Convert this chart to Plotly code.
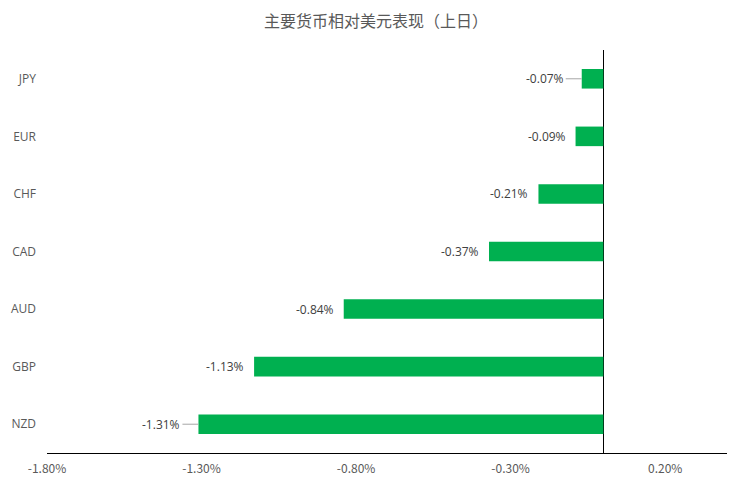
import plotly.graph_objects as go

categories = ["JPY", "EUR", "CHF", "CAD", "AUD", "GBP", "NZD"]
values = [-0.07, -0.09, -0.21, -0.37, -0.84, -1.13, -1.31]
labels = ["-0.07%", "-0.09%", "-0.21%", "-0.37%", "-0.84%", "-1.13%", "-1.31%"]
leader = [True, False, False, False, False, False, True]
tick_vals = [-1.8, -1.3, -0.8, -0.3, 0.2]
tick_text = ["-1.80%", "-1.30%", "-0.80%", "-0.30%", "0.20%"]
title = "主要货币相对美元表现（上日）"

fig = go.Figure(go.Bar(
    x=values, y=categories, orientation="h",
    marker=dict(color="#00B050", line=dict(width=0)),
    width=0.34, hoverinfo="x+y",
))

for c, v, t, l in zip(categories, values, labels, leader):
    if l:
        fig.add_annotation(x=v, y=c, text=t, showarrow=True, arrowhead=0,
                           arrowwidth=1, arrowcolor="#A6A6A6", ax=-16, ay=0,
                           xanchor="right", standoff=0,
                           font=dict(family="Open Sans", size=12, color="#404040"))
    else:
        fig.add_annotation(x=v, y=c, text=t, showarrow=False, xanchor="right",
                           xshift=-8,
                           font=dict(family="Open Sans", size=12, color="#404040"))

fig.update_layout(
    width=752, height=491,
    margin=dict(l=47, r=25, t=50, b=38),
    paper_bgcolor="white", plot_bgcolor="white",
    title=dict(text=title, x=0.5, xanchor="center", y=0.957, yanchor="middle",
               font=dict(family="Noto Sans CJK SC", size=16, color="#595959")),
    showlegend=False,
    xaxis=dict(range=[-1.8, 0.4], tickvals=tick_vals, ticktext=tick_text,
               showgrid=False, zeroline=True, zerolinecolor="#000000", zerolinewidth=1,
               showline=True, linecolor="#000000", linewidth=1, ticks="",
               ticklabelstandoff=5,
               tickfont=dict(family="Noto Sans CJK SC", size=12, color="#595959")),
    yaxis=dict(autorange="reversed", showgrid=False, zeroline=False, showline=False,
               ticks="", ticklabelstandoff=10,
               tickfont=dict(family="Open Sans", size=12, color="#595959")),
)

fig.write_html("out.html", config={"displayModeBar": False},
               post_script="document.body.style.margin='0';document.body.style.overflow='hidden';")
